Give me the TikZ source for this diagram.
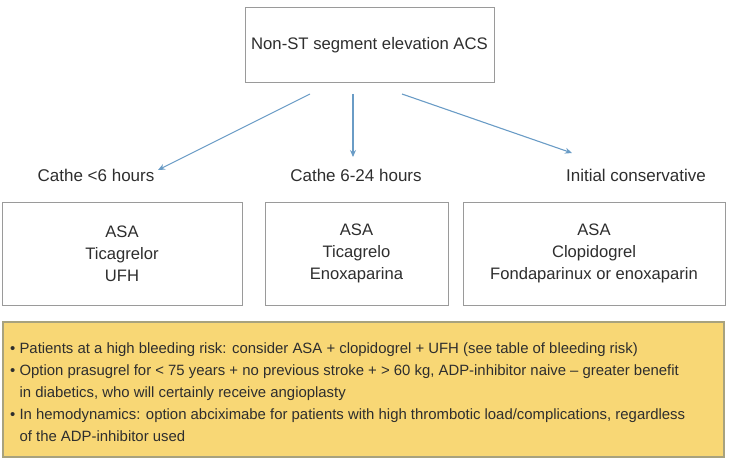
\documentclass[tikz,border=0pt]{standalone}
\usepackage{fontspec}
\setmainfont{Liberation Sans}
\usetikzlibrary{arrows.meta}
\definecolor{txt}{HTML}{2E2E2E}
\definecolor{boxline}{HTML}{9A9A9A}
\definecolor{arrowblue}{HTML}{6A9CC6}
\definecolor{yfill}{HTML}{F8D775}
\definecolor{yline}{HTML}{A8A27E}
\begin{document}
\begin{tikzpicture}[x=1pt,y=-1pt,
  every node/.style={text=txt},
  whitebox/.style={draw=boxline,line width=1pt,fill=white,inner sep=0pt,align=center,
    font=\fontsize{16.6}{22}\selectfont},
  lbl/.style={font=\fontsize{17}{20}\selectfont,inner sep=1pt},
  arr/.style={draw=arrowblue,line width=1.1pt,-{Stealth[length=7pt,width=6pt]}}]
\useasboundingbox (0,0) rectangle (732,460);
\node[whitebox,minimum width=249pt,minimum height=75pt,font=\fontsize{16.7}{20}\selectfont] (top) at (369.5,45.5) {Non-ST segment elevation ACS};
\node[lbl] (l1) at (96,175.5) {Cathe <6 hours};
\node[lbl] (l2) at (356,175.5) {Cathe 6-24 hours};
\node[lbl] (l3) at (636,175.5) {Initial conservative};
\coordinate (s1) at (310,94);
\coordinate (s2) at (353,94);
\coordinate (s3) at (402,94);
\coordinate (e1) at (158,170);
\coordinate (e2) at (353,157);
\coordinate (e3) at (572,153);
\draw[arr] (s1) -- (e1);
\draw[arr] (s2) -- (e2);
\draw[arr] (s3) -- (e3);
\node[whitebox,minimum width=240pt,minimum height=103pt] (b1) at (122,253.5) {ASA\\Ticagrelor\\UFH};
\node[whitebox,minimum width=183pt,minimum height=103pt] (b2) at (356.5,253.5) {ASA\\Ticagrelo\\Enoxaparina};
\node[whitebox,minimum width=262pt,minimum height=103pt] (b3) at (594,253.5) {ASA\\Clopidogrel\\Fondaparinux or enoxaparin};
\node[draw=yline,line width=1.2pt,fill=yfill,minimum width=721pt,minimum height=135pt,inner sep=0pt] (note) at (363.5,389.5) {};
\node[anchor=north west,align=left,inner sep=0pt,font=\fontsize{14.9}{22}\selectfont] (notetext) at (10,343)
{\textbullet\ Patients at a high bleeding risk: consider ASA + clopidogrel + UFH (see table of bleeding risk)\\
\textbullet\ Option prasugrel for < 75 years + no previous stroke + > 60 kg, ADP-inhibitor naive – greater benefit\\
\phantom{\textbullet\ }in diabetics, who will certainly receive angioplasty\\
\textbullet\ In hemodynamics: option abciximabe for patients with high thrombotic load/complications, regardless\\
\phantom{\textbullet\ }of the ADP-inhibitor used};
\end{tikzpicture}
\end{document}
